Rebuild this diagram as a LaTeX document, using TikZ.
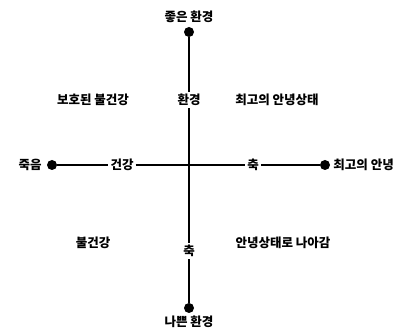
\documentclass[tikz,border=0pt]{standalone}
\usepackage{fontspec}
\newfontfamily\kr{Noto Sans CJK KR}
\usetikzlibrary{positioning}
\tikzset{
  jeom/.style   = {circle, fill=black, inner sep=0pt, minimum size=10pt},
  glja/.style   = {font=\kr\bfseries\fontsize{12.5}{14}\selectfont, inner sep=1pt},
  chukgul/.style= {glja, fill=white, inner sep=2pt},
  seon/.style   = {line width=1.1pt}
}
\begin{document}
\begin{tikzpicture}[x=1pt, y=-1pt]
        \useasboundingbox (0,0) rectangle (407,336);

        \node[jeom] (wi)   at (189,32)  {};
        \node[jeom] (arae) at (189,308) {};
        \node[jeom] (jwa)  at (52,165)  {};
        \node[jeom] (u)    at (325,165) {};

        \node[glja, above=3pt of wi]   (joeun) {좋은 환경};
        \node[glja, below=2pt of arae] (nappeun) {나쁜 환경};
        \node[glja, left=4pt of jwa]   (jugeum) {죽음};
        \node[glja, right=2pt of u]    (choego) {최고의 안녕};

        \node[chukgul] (hwangyeong) at (189,100) {환경};
        \node[chukgul] (chuk1)      at (189,251) {축};
        \node[chukgul] (geongang)   at (122,165) {건강};
        \node[chukgul] (chuk2)      at (253,165) {축};

        \draw[seon] (wi) -- (hwangyeong);
        \draw[seon] (hwangyeong) -- (chuk1);
        \draw[seon] (chuk1) -- (arae);
        \draw[seon] (jwa) -- (geongang);
        \draw[seon] (geongang) -- (chuk2);
        \draw[seon] (chuk2) -- (u);

        \node[glja] (bohodoen) at (93,100)  {보호된 불건강};
        \node[glja] (sangtae)  at (277,100) {최고의 안녕상태};
        \node[glja] (bulgeon)  at (93,243)  {불건강};
        \node[glja] (naagam)   at (283,243) {안녕상태로 나아감};
    \end{tikzpicture}
\end{document}
